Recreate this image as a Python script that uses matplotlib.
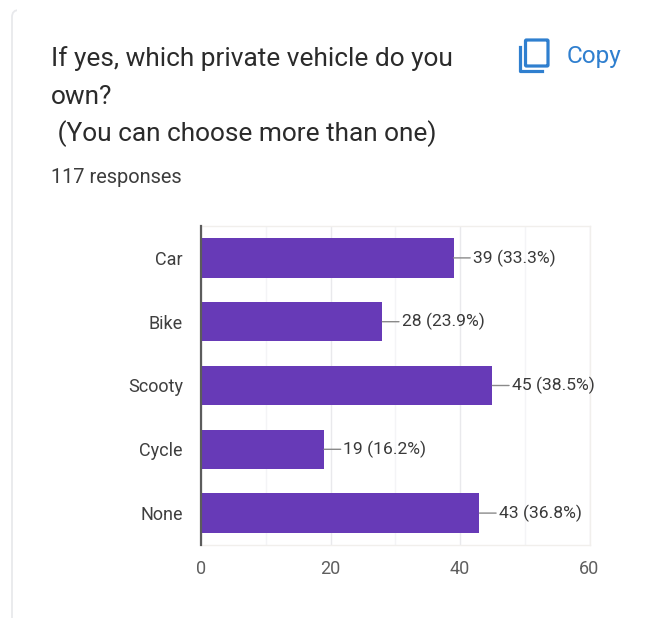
import matplotlib
matplotlib.use("Agg")
import matplotlib.pyplot as plt
from matplotlib.patches import FancyBboxPatch, Rectangle

categories = ["Car", "Bike", "Scooty", "Cycle", "None"]
counts = [39, 28, 45, 19, 43]
percents = ["33.3%", "23.9%", "38.5%", "16.2%", "36.8%"]
x_ticks = [0, 20, 40, 60]
x_minor = [10, 30, 50]
title_lines = ["If yes, which private vehicle do you", "own?", " (You can choose more than one)"]
subtitle = "117 responses"

W, H = 656, 618
plt.rcParams["font.family"] = ["Roboto", "DejaVu Sans"]
fig = plt.figure(figsize=(W / 100, H / 100), dpi=100, facecolor="white")


def fx(px):
    return px / W


def fy(py):
    return 1 - py / H


# Card edge on the left, with the start of its rounded top corner
bg = fig.add_axes([0, 0, 1, 1], zorder=0)
bg.set_xlim(0, W)
bg.set_ylim(H, 0)
bg.axis("off")
card = FancyBboxPatch((12, 10), 800, 800, boxstyle="round,pad=0,rounding_size=7",
                      fc="white", ec="#e8e9ec", lw=1.3)
bg.add_patch(card)
card.set_clip_path(Rectangle((0, 0), 17, H, transform=bg.transData))

# Copy icon
bg.add_patch(FancyBboxPatch((525.5, 40), 22.5, 26, boxstyle="round,pad=0,rounding_size=1",
                            fc="none", ec="#2f7fcf", lw=2.3))
bg.plot([519.5, 519.5, 542], [47, 70.5, 70.5], color="#2f7fcf", lw=2.3, solid_joinstyle="round")

# Header text
for line, py in zip(title_lines, [58.5, 96.5, 133.5]):
    fig.text(fx(51), fy(py), line, fontsize=18.9, color="#2b2b2b", va="center", ha="left")
fig.text(fx(51), fy(177.5), subtitle, fontsize=14.4, color="#3c3c3c", va="center", ha="left")
fig.text(fx(567), fy(56.5), "Copy", fontsize=17.6, color="#2f7fcf", va="center", ha="left")

# Bar chart
left, right, top, bottom = 201, 589.5, 226, 545
ax = fig.add_axes([fx(left), fy(bottom), (right - left) / W, (bottom - top) / H],
                  zorder=1, facecolor="none")
ypos = list(range(len(categories)))
ax.barh(ypos, counts, height=0.615, color="#673ab7", edgecolor="none", zorder=3)
ax.set_xlim(0, 60)
ax.set_ylim(len(categories) - 0.5, -0.5)

ax.set_xticks(x_ticks)
ax.set_xticks(x_minor, minor=True)
ax.grid(True, axis="x", which="major", color="#e9e9ec", lw=1.0, zorder=0)
ax.grid(True, axis="x", which="minor", color="#f4f4f6", lw=1.0, zorder=0)
ax.tick_params(axis="both", which="both", length=0)
ax.tick_params(axis="x", labelsize=13, labelcolor="#5f5f5f", pad=10.5)
ax.set_yticks(ypos, categories)
ax.tick_params(axis="y", labelsize=13, labelcolor="#3f3f3f", pad=13)

for name in ["top", "right", "bottom"]:
    ax.spines[name].set_color("#f1efec")
    ax.spines[name].set_linewidth(1.0)
ax.spines["left"].set_color("#5c5c5c")
ax.spines["left"].set_linewidth(1.6)
ax.spines["left"].set_zorder(5)

# Leader line and value label beside each bar
for y, n, pct in zip(ypos, counts, percents):
    ax.annotate(f"{n} ({pct})", xy=(n, y), xytext=(14, 0), textcoords="offset points",
                va="center", ha="left", fontsize=12.6, color="#3a3a3a", zorder=6,
                arrowprops=dict(arrowstyle="-", color="#8a8a8a", lw=1.0, shrinkA=0, shrinkB=0))

fig.savefig("out.png", dpi=100, facecolor="white")
